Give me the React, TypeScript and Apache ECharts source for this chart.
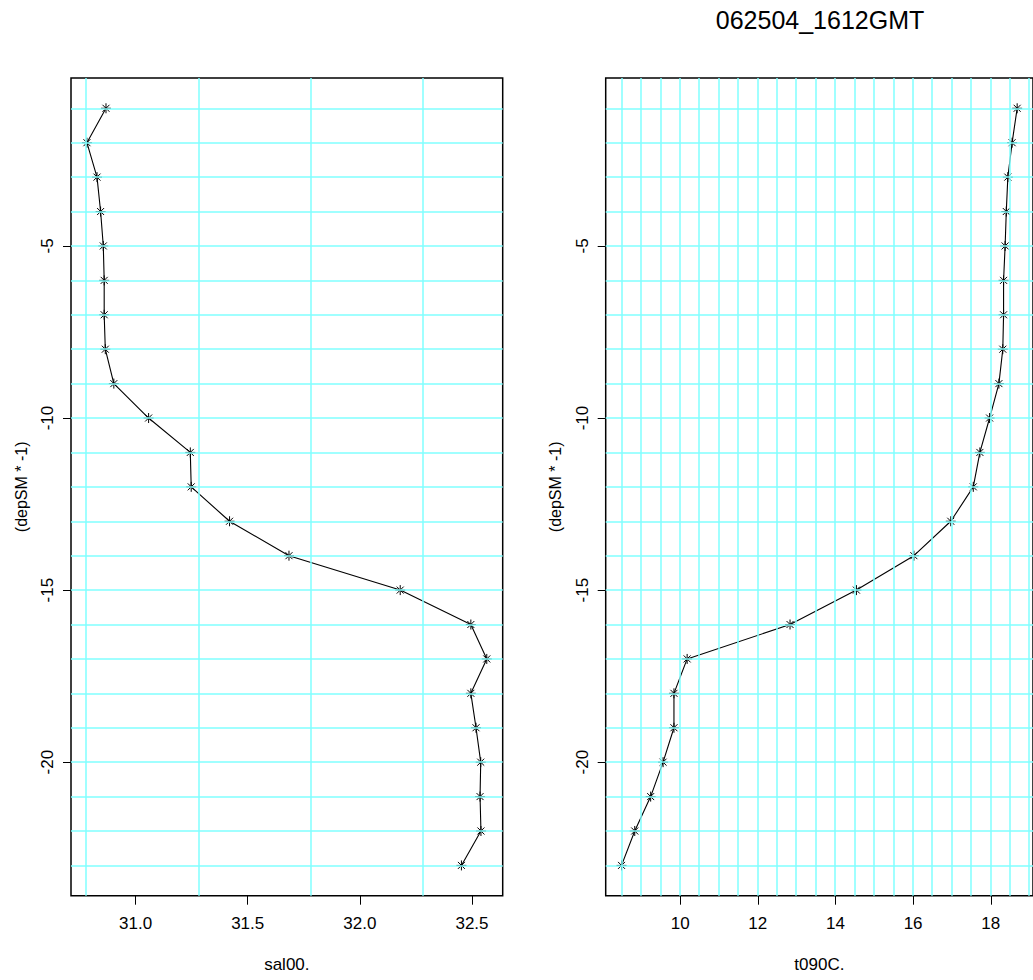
import React, { useEffect, useRef } from "react";
import * as echarts from "echarts";

// Depth (m) of each bin and the measured values
const depths = [1, 2, 3, 4, 5, 6, 7, 8, 9, 10, 11, 12, 13, 14, 15, 16, 17, 18, 19, 20, 21, 22, 23];
const salinity = [30.868, 30.783, 30.828, 30.844, 30.856, 30.86, 30.86, 30.865, 30.903, 31.058, 31.244, 31.248, 31.419, 31.684, 32.18, 32.495, 32.566, 32.495, 32.518, 32.539, 32.536, 32.54, 32.453];
const temperature = [18.68, 18.55, 18.44, 18.4, 18.37, 18.33, 18.33, 18.31, 18.21, 17.97, 17.72, 17.55, 16.97, 16.02, 14.54, 12.83, 10.18, 9.84, 9.84, 9.56, 9.24, 8.83, 8.49];

// Tick labels
const salTicks = [31.0, 31.5, 32.0, 32.5];
const tempTicks = [10, 12, 14, 16, 18];
const depthTicks = [-5, -10, -15, -20];

// Grid line positions
const salGrid = [30.783, 31.283, 31.783, 32.283];
const tempGrid = [8.49, 8.99, 9.49, 9.99, 10.49, 10.99, 11.49, 11.99, 12.49, 12.99, 13.49, 13.99, 14.49, 14.99, 15.49, 15.99, 16.49, 16.99, 17.49, 17.99, 18.49, 18.99];

const title = "062504_1612GMT";
const FONT = "Liberation Sans, Arial, sans-serif";
const GRIDC = "#80ffff";
const STAR = "path://M10,0L10,20M0,10L20,10M3,3L17,17M3,17L17,3";

export default function App() {
  const ref = useRef<HTMLDivElement>(null);
  useEffect(() => {
    if (!ref.current) return;
    const chart = echarts.init(ref.current, null, { renderer: "svg" });
    const depthVals = depths.map((d) => -d);
    const hLines = depthVals.map((v) => ({ yAxis: v }));
    const mkX = (axisName: string, idx: number, min: number, max: number, ticks: number[], fmt: (v: number) => string) => ({
      type: "value",
      gridIndex: idx,
      min,
      max,
      name: axisName,
      nameLocation: "middle",
      nameGap: 60,
      nameTextStyle: { fontFamily: FONT, fontSize: 17, color: "#000" },
      axisLine: { show: false },
      axisTick: { show: true, length: 9, lineStyle: { color: "#000", width: 1 }, customValues: ticks },
      axisLabel: { show: true, margin: 19, fontFamily: FONT, fontSize: 17, color: "#000", customValues: ticks, formatter: fmt },
      splitLine: { show: false },
    });
    const mkY = (idx: number) => ({
      type: "value",
      gridIndex: idx,
      min: -23.88,
      max: -0.12,
      name: "(depSM * -1)",
      nameLocation: "middle",
      nameGap: 42,
      nameRotate: 90,
      nameTextStyle: { fontFamily: FONT, fontSize: 16, color: "#000" },
      axisLine: { show: false },
      axisTick: { show: true, length: 8, lineStyle: { color: "#000", width: 1 }, customValues: depthTicks },
      axisLabel: { show: true, rotate: 90, margin: 15, fontFamily: FONT, fontSize: 17, color: "#000", customValues: depthTicks, formatter: (v: number) => String(v) },
      splitLine: { show: false },
    });
    const mkSeries = (idx: number, vals: number[], vGrid: number[]) => ({
      type: "line",
      xAxisIndex: idx,
      yAxisIndex: idx,
      data: vals.map((v, i) => [v, depthVals[i]]),
      symbol: STAR,
      symbolSize: 10,
      showSymbol: true,
      lineStyle: { color: "#000", width: 1.1 },
      itemStyle: { color: "#000", borderColor: "#000", borderWidth: 1 },
      z: 2,
      markLine: {
        silent: true,
        symbol: "none",
        animation: false,
        label: { show: false },
        lineStyle: { color: GRIDC, width: 1.5, type: "solid" },
        emphasis: { disabled: true },
        data: [...vGrid.map((v) => ({ xAxis: v })), ...hLines],
      },
    });
    chart.setOption({
      animation: false,
      backgroundColor: "#fff",
      grid: [
        { left: 71, top: 78, width: 431.7, height: 817.7, show: true, borderColor: "#000", borderWidth: 1.5, backgroundColor: "transparent" },
        { left: 605.7, top: 78, width: 432, height: 817.7, show: true, borderColor: "#000", borderWidth: 1.5, backgroundColor: "transparent" },
      ],
      xAxis: [
        mkX("sal00.", 0, 30.712, 32.637, salTicks, (v: number) => v.toFixed(1)),
        mkX("t090C.", 1, 8.082, 19.088, tempTicks, (v: number) => String(v)),
      ],
      yAxis: [mkY(0), mkY(1)],
      series: [mkSeries(0, salinity, salGrid), mkSeries(1, temperature, tempGrid)],
      graphic: [
        {
          type: "text",
          x: 820,
          y: 20,
          style: { text: title, fontFamily: FONT, fontSize: 25, fill: "#000", textAlign: "center", textVerticalAlign: "middle" },
        },
      ],
    });
    return () => chart.dispose();
  }, []);
  return <div ref={ref} style={{ position: "fixed", left: 0, top: 0, width: 1033, height: 980 }} />;
}
